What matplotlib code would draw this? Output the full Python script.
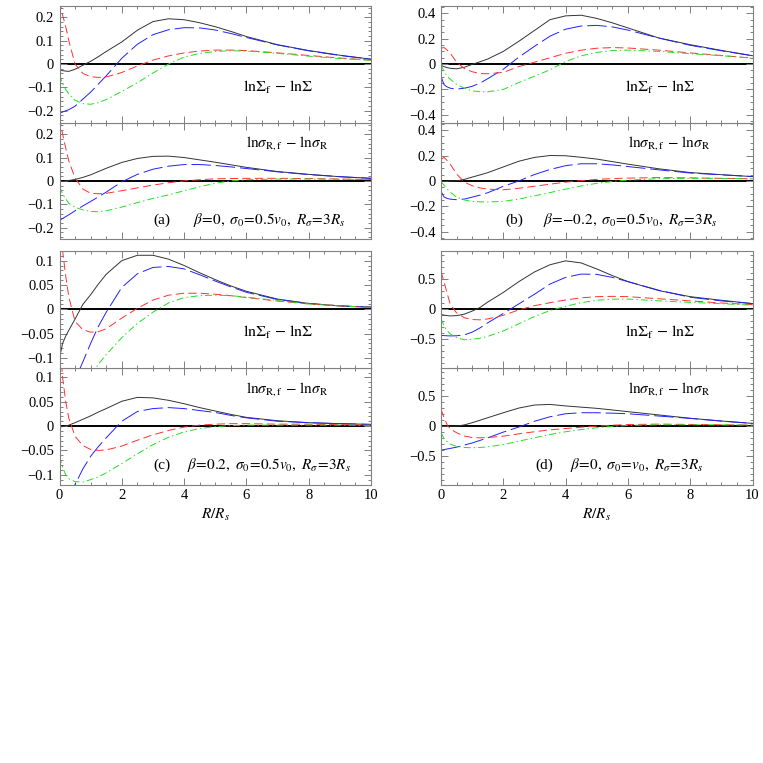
import matplotlib
matplotlib.use("Agg")
import matplotlib.pyplot as plt
from matplotlib.ticker import MultipleLocator, FuncFormatter

plt.rcParams['font.family'] = ['Liberation Serif', 'DejaVu Serif']
plt.rcParams['mathtext.fontset'] = 'stix'
plt.rcParams['lines.scale_dashes'] = False

# ---------------- data ----------------
R_GRID = [0, 0.1, 0.2, 0.3, 0.5, 0.75, 1, 1.25, 1.5, 2, 2.5, 3, 3.5, 4, 4.5, 5, 5.5, 6, 7, 8, 9, 10]

# panel (a): beta=0, sigma0=0.5 v0
a_surf_solid = [-0.024, -0.028, -0.030, -0.031, -0.022, -0.005, 0.012, 0.032, 0.054, 0.095, 0.145, 0.182, 0.194, 0.19, 0.177, 0.16, 0.14, 0.118, 0.083, 0.058, 0.038, 0.021]
a_surf_long = [-0.21, -0.205, -0.2, -0.195, -0.18, -0.15, -0.12, -0.085, -0.05, 0.025, 0.085, 0.126, 0.147, 0.156, 0.155, 0.146, 0.131, 0.114, 0.082, 0.057, 0.037, 0.021]
a_surf_short = [0.27, 0.21, 0.16, 0.1, 0.0, -0.04, -0.054, -0.057, -0.055, -0.036, -0.008, 0.017, 0.035, 0.048, 0.056, 0.06, 0.06, 0.058, 0.048, 0.037, 0.026, 0.017]
a_surf_dashdot = [-0.045, -0.085, -0.108, -0.128, -0.155, -0.169, -0.172, -0.165, -0.152, -0.117, -0.08, -0.038, 0.0, 0.03, 0.046, 0.054, 0.057, 0.056, 0.046, 0.034, 0.024, 0.016]
a_disp_solid = [-0.002, -0.002, -0.001, 0.002, 0.006, 0.015, 0.026, 0.04, 0.054, 0.079, 0.096, 0.105, 0.106, 0.1, 0.09, 0.08, 0.069, 0.058, 0.04, 0.028, 0.018, 0.011]
a_disp_long = [-0.169, -0.161, -0.153, -0.145, -0.128, -0.107, -0.088, -0.068, -0.048, -0.004, 0.028, 0.05, 0.063, 0.07, 0.07, 0.066, 0.06, 0.053, 0.039, 0.027, 0.018, 0.011]
a_disp_short = [0.27, 0.2, 0.14, 0.085, 0.012, -0.035, -0.053, -0.055, -0.053, -0.042, -0.03, -0.018, -0.008, 0.0, 0.005, 0.009, 0.01, 0.011, 0.011, 0.01, 0.008, 0.006]
a_disp_dashdot = [-0.024, -0.055, -0.077, -0.096, -0.113, -0.124, -0.131, -0.132, -0.128, -0.112, -0.093, -0.075, -0.06, -0.042, -0.025, -0.01, 0.0, 0.005, 0.008, 0.008, 0.007, 0.006]

# panel (b): beta=-0.2
b_surf_solid = [-0.01, -0.02, -0.028, -0.033, -0.037, -0.025, -0.002, 0.018, 0.04, 0.1, 0.18, 0.265, 0.35, 0.38, 0.385, 0.36, 0.325, 0.285, 0.205, 0.153, 0.108, 0.066]
b_surf_long = [-0.097, -0.163, -0.18, -0.19, -0.197, -0.19, -0.175, -0.15, -0.115, -0.04, 0.055, 0.14, 0.22, 0.275, 0.3, 0.305, 0.293, 0.268, 0.205, 0.148, 0.105, 0.066]
b_surf_short = [0.126, 0.13, 0.11, 0.085, 0.015, -0.035, -0.06, -0.075, -0.076, -0.065, -0.02, 0.015, 0.05, 0.085, 0.11, 0.125, 0.13, 0.127, 0.11, 0.088, 0.068, 0.047]
b_surf_dashdot = [-0.005, -0.06, -0.095, -0.12, -0.16, -0.19, -0.21, -0.218, -0.218, -0.2, -0.145, -0.095, -0.045, 0.02, 0.065, 0.092, 0.107, 0.11, 0.1, 0.082, 0.066, 0.047]
b_disp_solid = [-0.005, -0.004, -0.003, -0.002, 0.0, 0.012, 0.03, 0.047, 0.065, 0.11, 0.155, 0.185, 0.2, 0.198, 0.186, 0.172, 0.152, 0.132, 0.095, 0.066, 0.049, 0.034]
b_disp_long = [-0.083, -0.127, -0.138, -0.144, -0.148, -0.143, -0.128, -0.112, -0.093, -0.043, 0.0, 0.05, 0.09, 0.12, 0.135, 0.135, 0.126, 0.113, 0.087, 0.062, 0.048, 0.034]
b_disp_short = [0.17, 0.185, 0.16, 0.13, 0.055, -0.01, -0.038, -0.055, -0.065, -0.07, -0.058, -0.042, -0.026, -0.01, 0.002, 0.012, 0.018, 0.022, 0.026, 0.024, 0.02, 0.016]
b_disp_dashdot = [-0.005, -0.035, -0.065, -0.09, -0.128, -0.15, -0.162, -0.165, -0.166, -0.161, -0.143, -0.118, -0.092, -0.065, -0.04, -0.019, -0.005, 0.006, 0.018, 0.02, 0.02, 0.016]

# panel (c): beta=0.2
c_surf_solid = [-0.1, -0.07, -0.055, -0.043, -0.02, 0.01, 0.03, 0.052, 0.072, 0.1, 0.111, 0.111, 0.103, 0.09, 0.075, 0.061, 0.048, 0.037, 0.021, 0.012, 0.007, 0.004]
c_surf_long = [-0.22, -0.205, -0.19, -0.175, -0.145, -0.108, -0.07, -0.035, -0.006, 0.045, 0.073, 0.086, 0.088, 0.083, 0.071, 0.058, 0.046, 0.035, 0.02, 0.012, 0.007, 0.005]
c_surf_short = [0.2, 0.12, 0.068, 0.025, -0.025, -0.042, -0.047, -0.046, -0.04, -0.018, 0.002, 0.019, 0.029, 0.033, 0.033, 0.031, 0.028, 0.024, 0.017, 0.011, 0.007, 0.004]
c_surf_dashdot = [-0.3, -0.28, -0.26, -0.24, -0.2, -0.165, -0.135, -0.113, -0.093, -0.058, -0.029, -0.006, 0.013, 0.024, 0.028, 0.029, 0.028, 0.025, 0.018, 0.011, 0.007, 0.004]
c_disp_solid = [-0.002, -0.001, 0.0, 0.002, 0.007, 0.014, 0.021, 0.029, 0.036, 0.051, 0.059, 0.058, 0.053, 0.046, 0.038, 0.031, 0.024, 0.018, 0.011, 0.007, 0.005, 0.0035]
c_disp_long = [-0.2, -0.184, -0.168, -0.152, -0.12, -0.088, -0.062, -0.042, -0.024, 0.01, 0.03, 0.036, 0.038, 0.036, 0.032, 0.028, 0.022, 0.017, 0.01, 0.007, 0.005, 0.0035]
c_disp_short = [0.18, 0.1, 0.05, 0.016, -0.021, -0.04, -0.048, -0.05, -0.049, -0.041, -0.029, -0.018, -0.009, -0.002, 0.002, 0.004, 0.005, 0.005, 0.004, 0.004, 0.003, 0.002]
c_disp_dashdot = [-0.062, -0.085, -0.1, -0.108, -0.114, -0.115, -0.11, -0.104, -0.096, -0.077, -0.057, -0.038, -0.023, -0.012, -0.005, -0.001, 0.001, 0.002, 0.002, 0.002, 0.002, 0.0015]

# panel (d): beta=0, sigma0=v0
d_surf_solid = [-0.085, -0.098, -0.105, -0.11, -0.105, -0.08, -0.03, 0.03, 0.12, 0.28, 0.46, 0.62, 0.74, 0.805, 0.77, 0.67, 0.56, 0.46, 0.31, 0.21, 0.15, 0.095]
d_surf_long = [-0.433, -0.437, -0.44, -0.442, -0.44, -0.425, -0.38, -0.31, -0.225, -0.07, 0.09, 0.25, 0.42, 0.53, 0.585, 0.58, 0.53, 0.46, 0.315, 0.2, 0.14, 0.094]
d_surf_short = [0.63, 0.45, 0.26, 0.08, -0.06, -0.14, -0.17, -0.175, -0.16, -0.1, -0.01, 0.06, 0.11, 0.155, 0.19, 0.21, 0.215, 0.21, 0.175, 0.14, 0.105, 0.078]
d_surf_dashdot = [-0.156, -0.28, -0.36, -0.41, -0.47, -0.505, -0.5, -0.48, -0.45, -0.36, -0.24, -0.12, -0.02, 0.05, 0.11, 0.15, 0.168, 0.17, 0.14, 0.115, 0.093, 0.068]
d_disp_solid = [-0.003, -0.002, -0.002, -0.001, 0.0, 0.02, 0.056, 0.097, 0.139, 0.222, 0.3, 0.35, 0.36, 0.335, 0.315, 0.295, 0.268, 0.24, 0.185, 0.13, 0.085, 0.045]
d_disp_long = [-0.4, -0.39, -0.38, -0.37, -0.35, -0.315, -0.28, -0.238, -0.195, -0.1, -0.015, 0.08, 0.155, 0.205, 0.222, 0.222, 0.215, 0.205, 0.167, 0.128, 0.083, 0.045]
d_disp_short = [0.28, 0.14, 0.02, -0.05, -0.11, -0.165, -0.19, -0.195, -0.19, -0.167, -0.128, -0.094, -0.062, -0.04, -0.018, 0.0, 0.015, 0.026, 0.033, 0.028, 0.022, 0.017]
d_disp_dashdot = [-0.11, -0.21, -0.26, -0.3, -0.335, -0.355, -0.36, -0.355, -0.345, -0.306, -0.25, -0.194, -0.139, -0.094, -0.058, -0.028, -0.005, 0.011, 0.022, 0.022, 0.02, 0.017]

PANEL_TAGS = ['(a)', '(b)', '(c)', '(d)']
PANEL_PARAMS = [r'$\beta\!=\!0,\ \sigma_0\!=\!0.5v_0,\ R_\sigma\!=\!3R_s$',
                r'$\beta\!=\!{-}0.2,\ \sigma_0\!=\!0.5v_0,\ R_\sigma\!=\!3R_s$',
                r'$\beta\!=\!0.2,\ \sigma_0\!=\!0.5v_0,\ R_\sigma\!=\!3R_s$',
                r'$\beta\!=\!0,\ \sigma_0\!=\!v_0,\ R_\sigma\!=\!3R_s$']
TAG_X = [3.0, 2.06, 3.0, 3.02]
PARAM_X = [4.27, 3.28, 4.08, 4.15]
YLIMS = [0.25, 0.46, 0.12, 0.97]
YMAJOR = [0.1, 0.2, 0.05, 0.5]
YMINOR = [0.02, 0.05, 0.01, 0.1]
X_TICKS = [0, 2, 4, 6, 8, 10]
SURF_LABEL = r'$\mathrm{ln}\Sigma_{\rm f}\,-\,\mathrm{ln}\Sigma$'
DISP_LABEL = r'$\mathrm{ln}\sigma_{\rm R,f}\,-\,\mathrm{ln}\sigma_{\rm R}$'
XLABEL = r'$R/R_s$'

surf_sets = [
    [a_surf_solid, a_surf_long, a_surf_short, a_surf_dashdot],
    [b_surf_solid, b_surf_long, b_surf_short, b_surf_dashdot],
    [c_surf_solid, c_surf_long, c_surf_short, c_surf_dashdot],
    [d_surf_solid, d_surf_long, d_surf_short, d_surf_dashdot],
]
disp_sets = [
    [a_disp_solid, a_disp_long, a_disp_short, a_disp_dashdot],
    [b_disp_solid, b_disp_long, b_disp_short, b_disp_dashdot],
    [c_disp_solid, c_disp_long, c_disp_short, c_disp_dashdot],
    [d_disp_solid, d_disp_long, d_disp_short, d_disp_dashdot],
]

# ---------------- styles ----------------
STYLES = [
    dict(color='#333333', ls='-', lw=0.7),
    dict(color='#2020ff', ls=(0, (14, 3.5)), lw=0.7),
    dict(color='#ff3030', ls=(0, (6, 3)), lw=0.7),
    dict(color='#20e020', ls=(0, (5, 2.2, 1, 2.2)), lw=0.7),
]
FRAME = '#808080'

fig = plt.figure(figsize=(7.63, 7.63), dpi=100)

W = 763.0
col_left = [59.5 / W, 441 / W]
col_w = 311.5 / W
sub_h = 116.8 / W
row_bottoms = [(1 - 239.3 / W), (1 - 484.5 / W)]

fmt = FuncFormatter(lambda v, p: ('%g' % round(v, 6)).replace('-', '\u2212'))

for i in range(4):
    col = i % 2
    row = i // 2
    bot = row_bottoms[row]
    ax_lo = fig.add_axes([col_left[col], bot, col_w, sub_h])
    ax_hi = fig.add_axes([col_left[col], bot + sub_h, col_w, sub_h])
    for ax, curves, kind in ((ax_hi, surf_sets[i], 'surf'), (ax_lo, disp_sets[i], 'disp')):
        ax.axhline(0, color='black', lw=1.4, zorder=1)
        for yv, st in zip(curves, STYLES):
            ax.plot(R_GRID, yv, zorder=2, **st)
        ax.set_xlim(0, 10)
        ax.set_ylim(-YLIMS[i], YLIMS[i])
        ax.xaxis.set_major_locator(MultipleLocator(2))
        ax.xaxis.set_minor_locator(MultipleLocator(0.5))
        ax.yaxis.set_major_locator(MultipleLocator(YMAJOR[i]))
        ax.yaxis.set_minor_locator(MultipleLocator(YMINOR[i]))
        ax.yaxis.set_major_formatter(fmt)
        ax.xaxis.set_major_formatter(fmt)
        ax.tick_params(which='both', direction='in', top=True, right=True,
                       color=FRAME, labelsize=10.5, width=0.7)
        ax.tick_params(which='major', length=5)
        ax.tick_params(which='minor', length=2.5)
        for sp in ax.spines.values():
            sp.set_color(FRAME)
            sp.set_linewidth(0.8)
        ax.tick_params(axis='y', pad=4)
        tr = ax.get_xaxis_transform()
        if kind == 'surf':
            ax.tick_params(labelbottom=False)
            ax.text(5.9, 0.30, SURF_LABEL, transform=tr,
                    fontsize=11.5, va='center', ha='left')
        else:
            ax.text(6.0, 0.82, DISP_LABEL, transform=tr,
                    fontsize=11, va='center', ha='left')
            ax.text(TAG_X[i], 0.165, PANEL_TAGS[i], transform=tr,
                    fontsize=11, va='center', ha='left')
            ax.text(PARAM_X[i], 0.165, PANEL_PARAMS[i], transform=tr,
                    fontsize=11, va='center', ha='left')
            if row == 0:
                ax.tick_params(labelbottom=False)
            else:
                ax.set_xticks(X_TICKS)
                ax.set_xlabel(XLABEL, fontsize=11, labelpad=3)

fig.savefig('out.png', dpi=100)
